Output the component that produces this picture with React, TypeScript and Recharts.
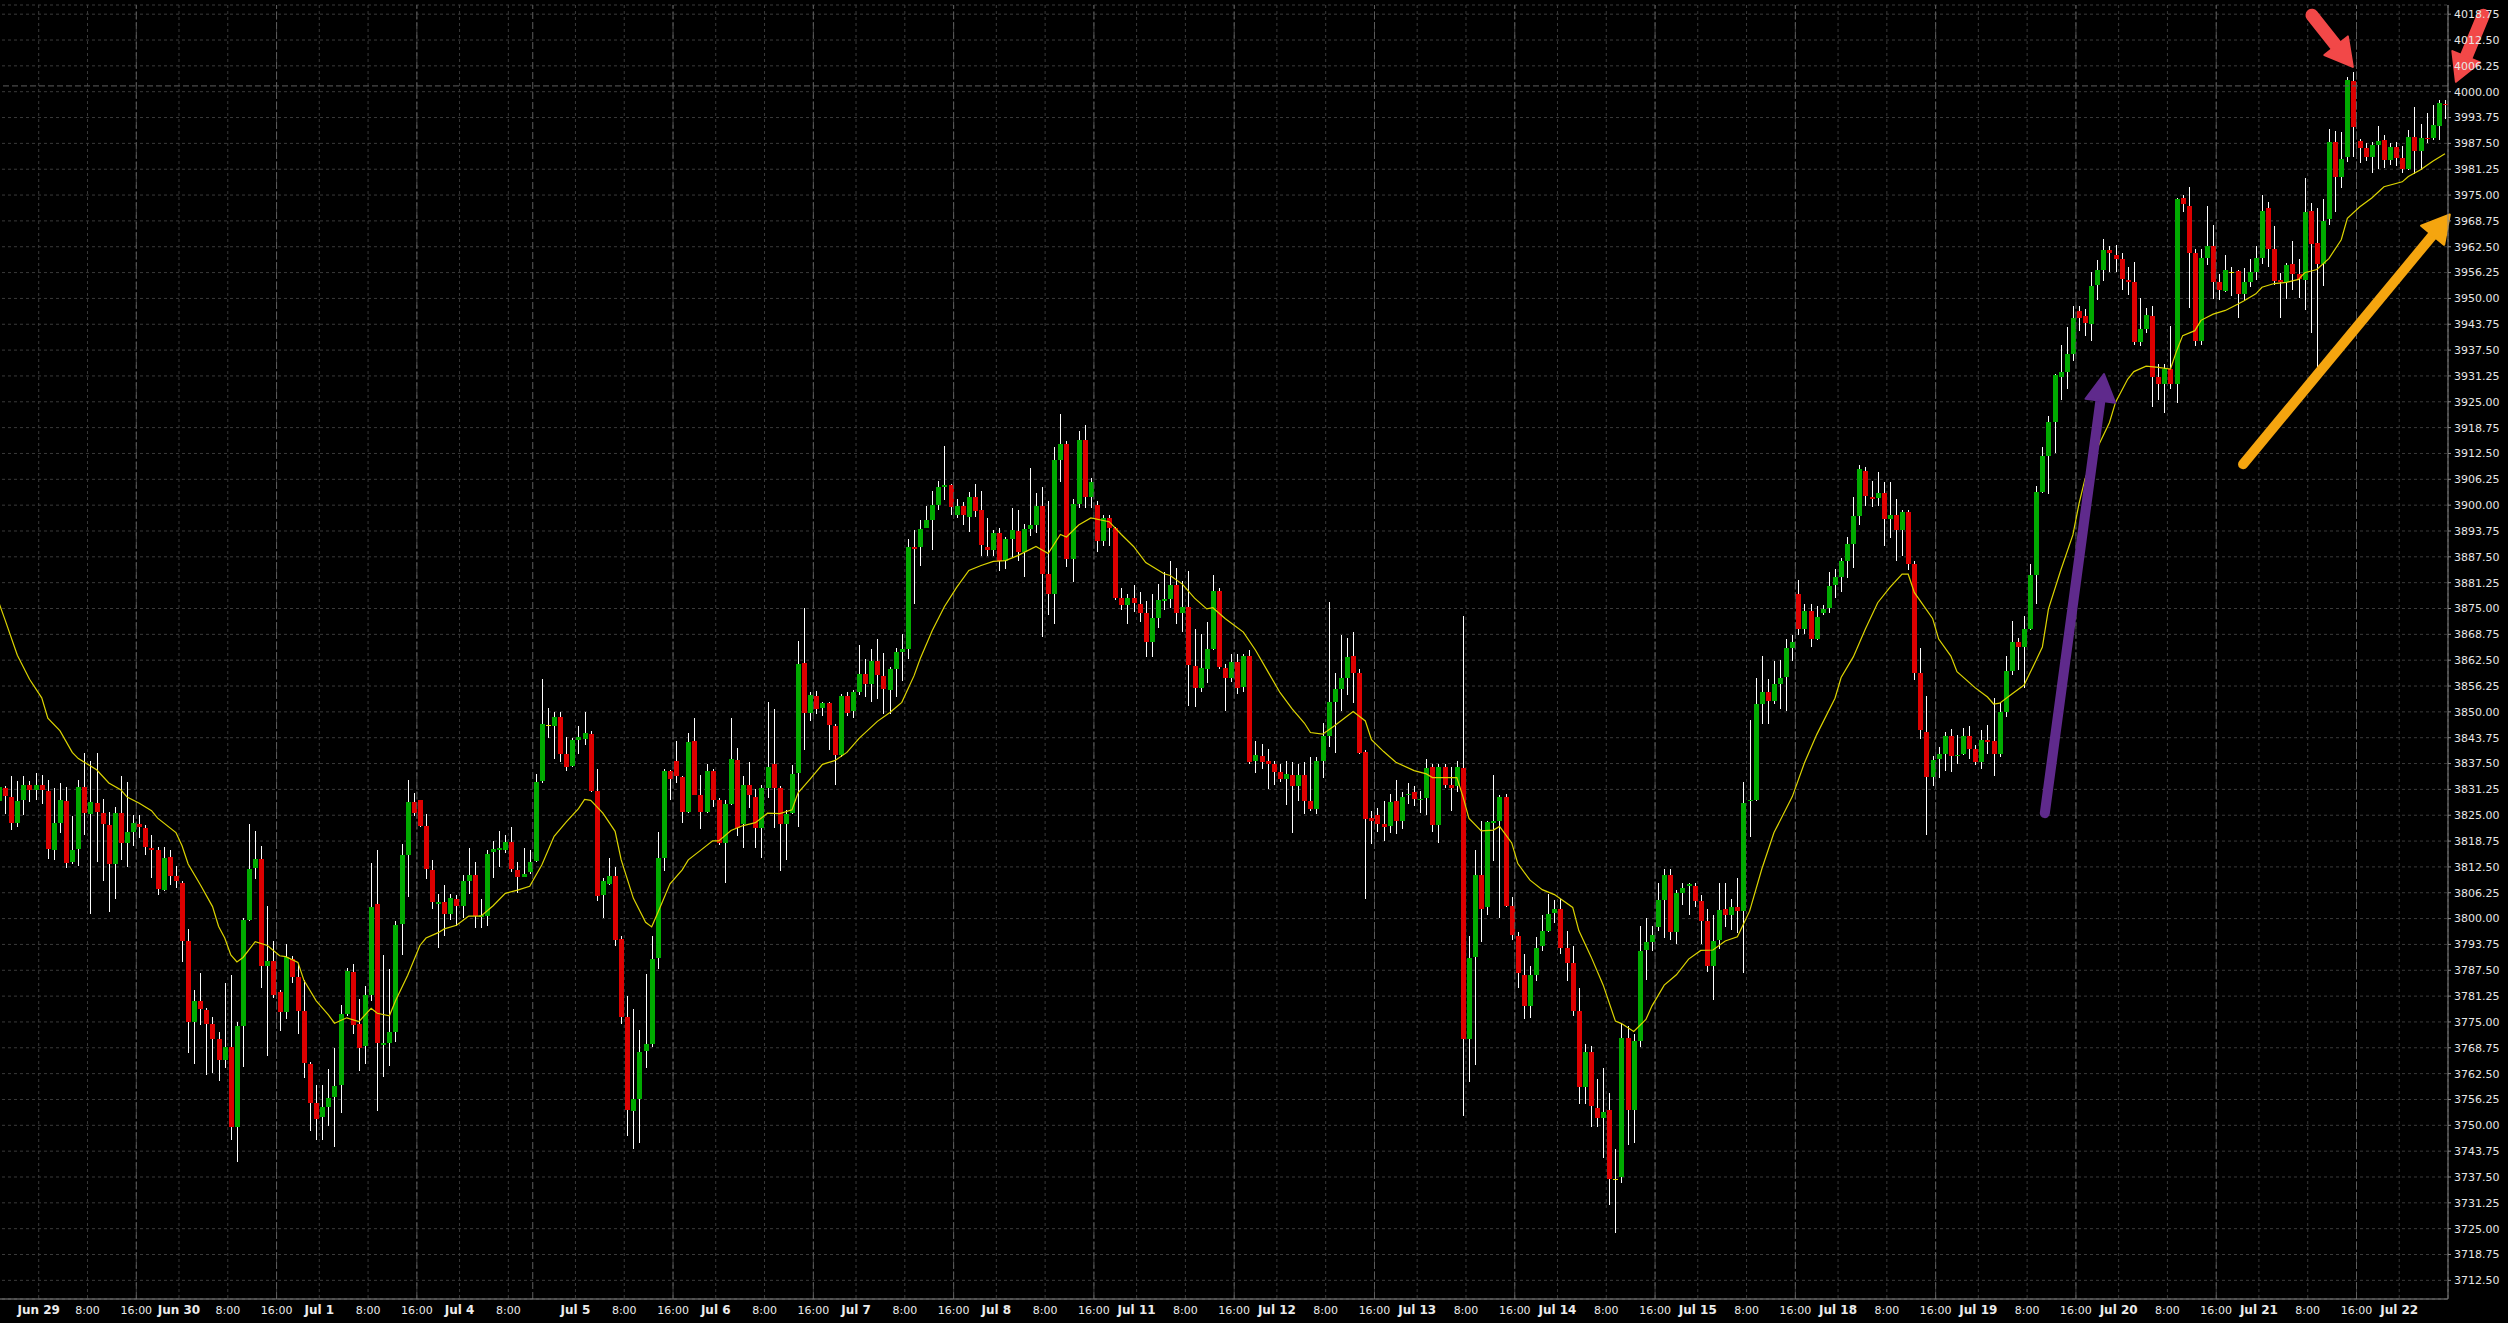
import React from "react";
import {
  ComposedChart,
  Bar,
  Line,
  XAxis,
  YAxis,
  CartesianGrid,
  ReferenceLine,
} from "recharts";

// hourly candles, index 0..401
const open = [
  3828.5, 3831.7, 3829.3, 3823.2, 3828.6, 3832.2, 3831.1, 3832.2, 3830.9, 3816.7,
  3823.2, 3828.4, 3813.8, 3816.9, 3831.9, 3825.3, 3827.9, 3825.5, 3822.7, 3813.3,
  3825.5, 3818.2, 3821.0, 3822.8, 3821.9, 3817.0, 3816.6, 3806.9, 3814.8, 3810.3,
  3808.5, 3794.7, 3774.9, 3780.0, 3777.8, 3774.4, 3770.9, 3765.9, 3768.9, 3749.5,
  3774.0, 3799.6, 3812.3, 3814.3, 3788.6, 3789.7, 3782.3, 3777.4, 3790.3, 3785.8,
  3777.6, 3764.8, 3755.5, 3751.9, 3754.4, 3756.8, 3759.7, 3776.9, 3787.2, 3774.5,
  3769.1, 3781.4, 3803.5, 3769.5, 3769.8, 3772.5, 3798.8, 3815.4, 3828.2, 3828.6,
  3822.4, 3811.7, 3803.6, 3804.0, 3801.1, 3804.8, 3803.1, 3809.0, 3810.5, 3800.4,
  3800.6, 3816.1, 3816.5, 3816.7, 3818.6, 3811.8, 3810.1, 3811.2, 3813.9, 3833.2,
  3846.8, 3846.5, 3848.8, 3839.8, 3836.8, 3843.3, 3843.4, 3844.7, 3830.8, 3805.7,
  3808.4, 3810.3, 3795.1, 3776.3, 3753.5, 3756.3, 3767.9, 3769.6, 3790.4, 3814.7,
  3835.6, 3838.1, 3834.3, 3825.7, 3843.0, 3830.0, 3825.7, 3835.8, 3828.7, 3818.3,
  3827.8, 3838.3, 3822.8, 3832.4, 3829.4, 3821.8, 3831.7, 3837.3, 3831.7, 3822.8,
  3825.5, 3835.2, 3861.8, 3849.8, 3853.8, 3850.9, 3852.1, 3846.5, 3839.6, 3853.8,
  3850.1, 3854.9, 3859.1, 3856.7, 3862.2, 3858.7, 3855.2, 3860.4, 3864.6, 3865.3,
  3889.8, 3889.8, 3894.5, 3896.5, 3900.1, 3904.5, 3904.9, 3897.5, 3899.8, 3897.2,
  3901.9, 3898.8, 3889.9, 3889.1, 3893.2, 3886.6, 3891.8, 3893.7, 3888.7, 3894.3,
  3895.2, 3899.8, 3883.4, 3878.4, 3910.8, 3914.9, 3886.9, 3900.3, 3915.7, 3902.0,
  3900.1, 3891.4, 3896.9, 3894.4, 3877.5, 3875.8, 3877.5, 3876.1, 3873.8, 3867.0,
  3872.7, 3876.8, 3877.3, 3880.7, 3873.8, 3875.4, 3861.2, 3855.8, 3860.4, 3865.2,
  3879.2, 3860.6, 3858.1, 3862.0, 3856.0, 3863.6, 3838.1, 3839.3, 3838.1, 3837.5,
  3835.5, 3833.7, 3834.7, 3832.1, 3834.7, 3828.4, 3826.4, 3838.1, 3844.2, 3852.4,
  3855.6, 3858.3, 3863.4, 3859.5, 3840.4, 3824.4, 3825.0, 3822.9, 3822.4, 3828.4,
  3823.5, 3829.8, 3830.5, 3828.8, 3829.2, 3836.6, 3822.7, 3836.6, 3832.4, 3832.1,
  3836.4, 3770.8, 3790.6, 3810.6, 3802.7, 3823.0, 3823.5, 3829.5, 3803.0, 3795.8,
  3786.3, 3778.9, 3786.3, 3793.3, 3797.0, 3801.4, 3802.3, 3793.0, 3789.3, 3777.7,
  3759.3, 3767.7, 3754.3, 3751.7, 3753.6, 3737.1, 3737.6, 3771.2, 3753.6, 3770.4,
  3792.3, 3794.3, 3798.0, 3804.6, 3810.6, 3796.8, 3806.2, 3807.8, 3807.9, 3804.2,
  3799.3, 3788.6, 3794.8, 3802.4, 3800.8, 3802.9, 3801.8, 3828.5, 3828.8, 3851.8,
  3854.8, 3852.7, 3856.8, 3858.5, 3865.5, 3878.5, 3870.1, 3874.5, 3867.6, 3873.8,
  3875.1, 3880.8, 3882.6, 3886.4, 3890.5, 3897.3, 3908.3, 3902.0, 3901.8, 3902.9,
  3896.6, 3897.6, 3893.9, 3898.3, 3885.8, 3859.3, 3845.2, 3834.3, 3838.6, 3839.8,
  3844.2, 3839.3, 3839.8, 3844.1, 3841.0, 3837.9, 3843.2, 3842.9, 3839.8, 3849.9,
  3859.8, 3866.9, 3865.7, 3870.0, 3883.2, 3903.3, 3911.9, 3920.2, 3931.1, 3932.3,
  3936.5, 3946.9, 3945.7, 3943.7, 3953.3, 3956.8, 3961.7, 3960.5, 3959.5, 3954.5,
  3953.9, 3939.5, 3942.5, 3945.7, 3931.1, 3929.3, 3932.9, 3929.3, 3974.3, 3972.4,
  3961.1, 3939.7, 3959.7, 3962.6, 3953.9, 3951.8, 3956.4, 3956.6, 3951.1, 3953.9,
  3956.4, 3959.7, 3971.8, 3961.9, 3954.5, 3953.9, 3958.3, 3955.8, 3954.5, 3971.1,
  3963.4, 3958.3, 3969.1, 3987.8, 3979.4, 3984.1, 4002.6, 3988.0, 3986.5, 3984.3,
  3987.2, 3988.3, 3983.6, 3986.7, 3984.0, 3981.3, 3989.1, 3985.7, 3988.9, 3988.9,
  3991.7, 3997.1,
];

const high = [
  3832.4, 3832.0, 3834.5, 3833.2, 3834.6, 3833.2, 3835.2, 3834.8, 3833.5, 3831.5,
  3832.8, 3831.8, 3824.8, 3833.5, 3840.0, 3838.2, 3840.0, 3828.9, 3825.7, 3826.9,
  3834.6, 3833.1, 3825.1, 3825.1, 3822.7, 3820.1, 3817.2, 3817.2, 3816.6, 3812.7,
  3809.0, 3797.4, 3782.7, 3786.8, 3778.4, 3776.3, 3772.5, 3784.5, 3786.3, 3775.1,
  3800.2, 3822.8, 3821.2, 3817.5, 3803.1, 3794.5, 3782.7, 3793.8, 3791.0, 3789.0,
  3785.2, 3765.3, 3759.7, 3759.7, 3763.5, 3768.6, 3779.2, 3788.1, 3789.0, 3780.5,
  3783.6, 3813.5, 3816.7, 3791.1, 3787.7, 3799.3, 3818.1, 3833.5, 3830.3, 3828.6,
  3825.2, 3814.2, 3806.0, 3808.2, 3806.0, 3805.6, 3810.5, 3817.0, 3813.6, 3804.7,
  3816.7, 3818.8, 3821.1, 3820.2, 3822.2, 3813.6, 3817.1, 3816.5, 3835.0, 3858.0,
  3850.9, 3850.0, 3850.0, 3844.0, 3843.7, 3846.5, 3850.0, 3845.4, 3836.1, 3809.8,
  3814.7, 3812.4, 3795.7, 3781.2, 3778.1, 3773.0, 3786.6, 3795.9, 3820.9, 3836.1,
  3836.0, 3842.9, 3834.4, 3845.0, 3848.6, 3834.7, 3837.5, 3836.1, 3829.2, 3828.6,
  3848.5, 3841.2, 3834.4, 3837.9, 3831.3, 3832.4, 3852.3, 3850.7, 3832.1, 3826.3,
  3837.1, 3867.2, 3875.1, 3854.9, 3855.0, 3852.3, 3852.3, 3847.1, 3854.3, 3854.9,
  3855.2, 3866.2, 3862.8, 3865.3, 3867.6, 3864.2, 3860.8, 3865.4, 3868.8, 3891.7,
  3894.0, 3896.3, 3899.8, 3903.5, 3905.8, 3914.2, 3905.0, 3901.5, 3900.7, 3903.2,
  3905.0, 3903.4, 3896.9, 3894.0, 3894.4, 3892.3, 3899.2, 3898.8, 3895.5, 3908.9,
  3902.9, 3904.5, 3900.9, 3914.0, 3922.0, 3915.4, 3901.5, 3918.0, 3919.4, 3906.6,
  3900.9, 3897.5, 3897.5, 3894.6, 3880.0, 3878.4, 3880.6, 3878.9, 3876.9, 3878.6,
  3880.9, 3883.8, 3886.4, 3884.9, 3881.7, 3884.0, 3870.1, 3868.9, 3871.8, 3883.2,
  3880.0, 3861.5, 3864.0, 3864.0, 3864.0, 3864.9, 3842.9, 3842.3, 3840.9, 3838.1,
  3837.5, 3838.1, 3837.8, 3837.5, 3837.8, 3839.2, 3839.2, 3847.2, 3876.6, 3859.5,
  3868.6, 3867.8, 3869.2, 3860.4, 3840.7, 3826.1, 3826.7, 3828.4, 3830.1, 3833.5,
  3830.5, 3832.8, 3832.1, 3830.9, 3838.7, 3837.5, 3837.3, 3837.3, 3836.6, 3838.1,
  3873.1, 3795.9, 3816.7, 3823.5, 3823.5, 3834.8, 3829.8, 3830.2, 3805.2, 3796.8,
  3791.4, 3788.5, 3795.6, 3800.8, 3806.0, 3804.5, 3804.8, 3797.0, 3793.3, 3783.1,
  3769.6, 3769.3, 3761.1, 3763.9, 3757.7, 3744.3, 3774.6, 3774.0, 3772.1, 3798.1,
  3800.2, 3798.3, 3808.5, 3812.0, 3812.0, 3807.0, 3808.5, 3808.5, 3808.5, 3805.8,
  3802.3, 3800.8, 3808.7, 3808.7, 3804.8, 3809.8, 3833.0, 3848.0, 3858.3, 3863.5,
  3858.0, 3862.3, 3862.6, 3867.6, 3868.5, 3881.8, 3876.0, 3876.0, 3875.5, 3875.8,
  3883.9, 3884.5, 3887.3, 3892.3, 3902.0, 3909.8, 3909.3, 3905.8, 3908.0, 3905.5,
  3905.5, 3901.4, 3898.9, 3898.9, 3886.4, 3865.5, 3853.9, 3839.3, 3841.4, 3845.2,
  3845.8, 3844.5, 3846.2, 3846.6, 3842.0, 3845.7, 3846.9, 3853.4, 3852.1, 3863.5,
  3871.9, 3867.9, 3873.1, 3885.7, 3904.6, 3914.1, 3921.5, 3931.6, 3938.7, 3943.2,
  3948.1, 3948.1, 3947.4, 3956.4, 3959.2, 3964.4, 3962.6, 3962.9, 3961.0, 3957.6,
  3958.9, 3950.0, 3947.8, 3948.1, 3934.2, 3934.2, 3943.4, 3974.3, 3974.9, 3977.0,
  3961.9, 3961.9, 3972.4, 3967.8, 3955.8, 3960.5, 3957.6, 3956.8, 3957.3, 3959.5,
  3962.6, 3974.9, 3973.4, 3967.5, 3956.2, 3958.5, 3963.8, 3959.5, 3979.2, 3973.1,
  3971.8, 3974.0, 3991.0, 3990.5, 3990.3, 4003.5, 4004.8, 3988.5, 3987.5, 3987.9,
  3991.7, 3989.5, 3987.5, 3987.9, 3986.9, 3990.7, 3996.2, 3992.3, 3994.9, 3996.8,
  3998.0, 3998.0,
];

const low = [
  3827.9, 3825.4, 3821.5, 3822.1, 3825.0, 3828.1, 3828.6, 3827.7, 3814.5, 3814.1,
  3820.6, 3812.2, 3813.2, 3812.7, 3820.3, 3801.2, 3813.6, 3809.1, 3801.5, 3804.7,
  3814.1, 3812.5, 3817.5, 3819.6, 3815.3, 3809.8, 3805.6, 3806.6, 3808.2, 3807.4,
  3789.5, 3767.5, 3764.8, 3774.2, 3762.1, 3762.6, 3760.8, 3763.9, 3746.5, 3741.1,
  3764.2, 3799.5, 3809.6, 3783.2, 3766.8, 3780.9, 3772.9, 3775.6, 3784.5, 3772.2,
  3761.5, 3748.7, 3746.5, 3746.5, 3749.8, 3744.7, 3752.9, 3776.5, 3772.0, 3763.2,
  3764.8, 3780.0, 3753.5, 3761.7, 3764.4, 3770.2, 3791.2, 3805.3, 3824.8, 3822.1,
  3809.6, 3802.4, 3792.8, 3795.7, 3799.6, 3798.1, 3800.2, 3805.9, 3797.7, 3797.8,
  3798.3, 3809.8, 3812.4, 3815.9, 3811.3, 3806.1, 3810.1, 3810.7, 3813.7, 3832.7,
  3843.7, 3838.5, 3837.9, 3835.8, 3836.7, 3839.9, 3841.9, 3830.6, 3804.3, 3800.1,
  3808.1, 3793.3, 3774.6, 3747.4, 3744.2, 3745.7, 3763.8, 3769.0, 3787.8, 3811.6,
  3828.6, 3832.9, 3823.2, 3825.5, 3829.8, 3821.7, 3825.5, 3826.9, 3817.9, 3808.6,
  3827.5, 3819.9, 3817.0, 3826.7, 3817.0, 3814.7, 3829.2, 3822.0, 3811.6, 3814.1,
  3825.2, 3822.2, 3840.8, 3847.9, 3849.4, 3849.1, 3840.8, 3832.4, 3839.0, 3848.9,
  3848.5, 3854.2, 3853.7, 3852.3, 3853.1, 3849.4, 3849.4, 3853.7, 3857.5, 3862.8,
  3876.2, 3885.3, 3894.5, 3889.1, 3898.8, 3901.2, 3897.7, 3896.9, 3895.1, 3893.4,
  3897.2, 3887.8, 3887.8, 3887.8, 3884.1, 3884.6, 3887.5, 3886.4, 3882.6, 3892.6,
  3893.2, 3868.0, 3873.5, 3871.2, 3905.5, 3885.1, 3881.5, 3899.2, 3899.4, 3899.4,
  3888.7, 3890.0, 3890.0, 3877.0, 3874.6, 3871.2, 3874.1, 3871.8, 3863.2, 3863.2,
  3870.4, 3874.6, 3875.2, 3871.2, 3869.3, 3851.5, 3851.2, 3854.7, 3856.9, 3864.9,
  3860.4, 3850.1, 3857.2, 3854.4, 3854.9, 3837.5, 3835.3, 3836.2, 3831.3, 3832.4,
  3833.0, 3827.5, 3820.7, 3828.4, 3825.2, 3826.1, 3825.3, 3833.9, 3841.5, 3840.1,
  3850.1, 3854.1, 3852.2, 3839.8, 3804.8, 3818.1, 3821.0, 3818.7, 3820.6, 3820.4,
  3821.6, 3827.8, 3827.3, 3825.6, 3825.0, 3821.0, 3818.4, 3831.6, 3826.1, 3830.7,
  3752.2, 3760.5, 3764.6, 3794.3, 3800.8, 3813.9, 3800.2, 3802.7, 3794.8, 3783.1,
  3775.6, 3776.0, 3784.8, 3792.1, 3796.8, 3798.9, 3791.4, 3784.8, 3776.4, 3755.2,
  3755.2, 3749.6, 3749.6, 3742.1, 3730.8, 3724.0, 3736.1, 3745.2, 3745.8, 3768.9,
  3785.2, 3792.1, 3797.0, 3795.2, 3794.8, 3793.9, 3803.3, 3800.8, 3802.7, 3793.9,
  3787.1, 3780.2, 3792.7, 3798.0, 3797.3, 3796.4, 3786.8, 3819.8, 3828.5, 3847.0,
  3847.0, 3852.0, 3850.8, 3850.2, 3862.3, 3868.5, 3868.9, 3865.8, 3867.3, 3873.5,
  3873.9, 3877.6, 3878.9, 3882.3, 3884.8, 3895.1, 3899.8, 3899.5, 3899.8, 3890.1,
  3892.0, 3886.4, 3887.6, 3884.3, 3857.7, 3843.5, 3820.2, 3832.0, 3833.9, 3835.8,
  3835.5, 3837.3, 3839.5, 3838.5, 3837.1, 3836.1, 3839.8, 3834.6, 3839.2, 3848.7,
  3858.9, 3860.1, 3855.8, 3869.7, 3876.2, 3903.0, 3902.7, 3912.6, 3925.5, 3928.0,
  3934.8, 3942.2, 3941.0, 3939.8, 3949.6, 3954.3, 3956.4, 3956.4, 3952.1, 3950.8,
  3938.7, 3938.5, 3941.6, 3923.7, 3925.5, 3922.2, 3928.0, 3924.7, 3970.8, 3947.8,
  3938.5, 3938.7, 3958.0, 3949.9, 3949.6, 3951.5, 3950.6, 3945.3, 3949.6, 3952.7,
  3954.5, 3958.3, 3957.6, 3953.3, 3945.3, 3949.9, 3952.1, 3950.0, 3947.1, 3941.6,
  3933.3, 3953.1, 3967.7, 3970.9, 3976.6, 3983.1, 3984.3, 3982.7, 3983.3, 3980.4,
  3981.2, 3981.5, 3982.3, 3982.0, 3980.4, 3981.0, 3980.2, 3981.0, 3987.7, 3988.3,
  3988.3, 3993.5,
];

const close = [
  3831.8, 3829.7, 3823.0, 3828.4, 3832.2, 3831.1, 3832.2, 3831.0, 3816.9, 3823.2,
  3828.6, 3813.5, 3816.7, 3831.9, 3825.5, 3828.2, 3825.9, 3822.8, 3813.3, 3825.5,
  3818.2, 3820.9, 3823.1, 3822.1, 3817.4, 3816.7, 3807.1, 3814.6, 3810.2, 3809.0,
  3794.7, 3774.9, 3780.0, 3778.1, 3774.4, 3770.9, 3765.9, 3768.9, 3749.5, 3774.0,
  3799.6, 3812.0, 3814.5, 3788.5, 3789.7, 3781.4, 3777.4, 3790.8, 3785.8, 3777.6,
  3765.0, 3755.5, 3751.6, 3754.4, 3756.6, 3759.5, 3776.9, 3787.4, 3774.2, 3768.7,
  3781.4, 3802.8, 3769.8, 3770.0, 3772.6, 3798.4, 3815.3, 3828.2, 3825.5, 3822.4,
  3812.0, 3804.0, 3804.1, 3801.1, 3804.9, 3803.1, 3809.0, 3810.5, 3800.6, 3800.9,
  3815.6, 3816.8, 3817.1, 3818.6, 3812.1, 3810.1, 3810.7, 3813.7, 3833.0, 3847.0,
  3846.8, 3848.8, 3839.8, 3836.6, 3843.3, 3843.9, 3844.9, 3830.8, 3805.5, 3809.0,
  3810.3, 3794.8, 3776.3, 3753.7, 3756.3, 3767.7, 3769.6, 3790.2, 3814.6, 3835.6,
  3833.8, 3834.6, 3825.7, 3842.7, 3829.9, 3825.7, 3835.8, 3828.7, 3818.3, 3827.8,
  3838.5, 3821.8, 3832.3, 3829.8, 3821.8, 3831.7, 3836.7, 3831.7, 3822.8, 3825.2,
  3835.0, 3861.5, 3849.8, 3854.1, 3850.6, 3852.1, 3846.8, 3839.6, 3853.8, 3849.8,
  3854.9, 3859.1, 3856.7, 3862.2, 3858.8, 3855.5, 3860.4, 3864.6, 3865.1, 3889.8,
  3889.5, 3894.3, 3896.4, 3900.1, 3904.4, 3904.9, 3899.5, 3899.8, 3897.5, 3901.9,
  3898.6, 3890.3, 3889.1, 3893.2, 3886.6, 3891.8, 3894.0, 3888.7, 3894.3, 3895.2,
  3899.8, 3883.4, 3878.4, 3910.8, 3914.9, 3886.9, 3900.3, 3915.7, 3902.0, 3905.5,
  3891.4, 3896.9, 3894.4, 3877.5, 3875.8, 3877.5, 3876.3, 3873.8, 3867.0, 3872.7,
  3877.0, 3877.3, 3880.7, 3873.8, 3875.4, 3861.3, 3855.8, 3860.6, 3865.2, 3879.2,
  3860.8, 3858.1, 3862.0, 3855.8, 3863.6, 3837.8, 3839.6, 3837.8, 3837.5, 3835.5,
  3833.7, 3835.0, 3832.1, 3834.7, 3828.4, 3826.5, 3838.1, 3844.2, 3852.4, 3855.6,
  3858.3, 3863.2, 3859.5, 3840.1, 3824.1, 3823.6, 3822.9, 3822.1, 3828.2, 3823.5,
  3829.3, 3830.2, 3829.0, 3829.0, 3836.4, 3822.7, 3836.6, 3832.4, 3831.6, 3836.6,
  3770.8, 3790.5, 3810.6, 3802.3, 3823.3, 3823.5, 3829.5, 3803.0, 3796.1, 3786.8,
  3778.9, 3786.3, 3793.0, 3797.0, 3801.0, 3802.3, 3793.0, 3789.3, 3777.7, 3759.3,
  3767.7, 3754.6, 3751.7, 3753.3, 3737.1, 3737.1, 3771.2, 3753.6, 3770.4, 3792.1,
  3794.3, 3796.0, 3804.6, 3810.6, 3796.8, 3806.2, 3807.5, 3808.3, 3804.2, 3799.3,
  3788.6, 3794.6, 3802.0, 3800.8, 3802.7, 3801.8, 3828.0, 3828.8, 3851.8, 3854.8,
  3852.7, 3856.8, 3858.3, 3865.5, 3866.8, 3870.1, 3874.5, 3867.6, 3873.0, 3875.0,
  3880.5, 3882.6, 3886.4, 3890.5, 3897.3, 3908.8, 3902.3, 3901.6, 3902.9, 3896.6,
  3897.6, 3893.9, 3898.3, 3885.8, 3859.3, 3845.5, 3834.3, 3838.3, 3839.8, 3844.2,
  3839.3, 3839.5, 3844.1, 3841.0, 3837.9, 3843.2, 3842.8, 3839.8, 3849.9, 3859.8,
  3866.9, 3865.7, 3870.0, 3883.2, 3903.3, 3911.9, 3920.2, 3931.4, 3932.3, 3936.5,
  3945.3, 3945.3, 3944.1, 3953.1, 3956.8, 3961.7, 3961.0, 3959.5, 3954.8, 3953.9,
  3939.5, 3942.5, 3945.9, 3931.1, 3929.3, 3932.9, 3929.3, 3974.0, 3972.8, 3961.1,
  3939.7, 3959.7, 3962.6, 3953.9, 3952.1, 3956.8, 3956.4, 3951.1, 3953.9, 3956.4,
  3959.7, 3971.2, 3961.9, 3954.3, 3953.9, 3958.0, 3955.8, 3954.8, 3970.8, 3963.2,
  3958.3, 3968.7, 3987.8, 3979.4, 3983.7, 4002.8, 3991.4, 3986.5, 3984.3, 3987.1,
  3988.0, 3983.6, 3986.7, 3983.9, 3981.2, 3989.1, 3985.7, 3988.9, 3988.5, 3991.9,
  3997.2, 3996.7,
];

// moving average at these candles
const maBars = [
  0, 1, 3, 5, 7, 8, 10, 12, 13, 16, 18, 20, 21, 23, 25, 26, 29, 30, 31, 33,
  35, 36, 37, 38, 39, 40, 42, 44, 46, 47, 49, 50, 52, 54, 55, 57, 59, 61, 62, 64,
  65, 67, 69, 70, 72, 73, 75, 77, 79, 81, 83, 85, 87, 89, 91, 93, 95, 96, 97, 99,
  101, 102, 104, 106, 107, 108, 110, 112, 113, 115, 117, 118, 120, 122, 124, 126, 128, 130, 131, 133,
  135, 137, 139, 141, 144, 146, 148, 150, 151, 153, 155, 157, 159, 161, 163, 165, 167, 170, 172, 174,
  175, 177, 179, 182, 184, 186, 188, 191, 192, 194, 196, 198, 199, 201, 204, 206, 208, 210, 212, 214,
  215, 217, 219, 222, 224, 225, 227, 229, 232, 234, 235, 237, 239, 240, 241, 243, 245, 246, 248, 249,
  251, 253, 255, 258, 259, 261, 263, 265, 266, 268, 270, 271, 273, 275, 277, 279, 281, 283, 285, 287,
  289, 291, 294, 296, 298, 301, 302, 304, 306, 308, 310, 312, 313, 314, 317, 318, 320, 321, 324, 326,
  327, 328, 330, 332, 333, 335, 336, 338, 340, 341, 342, 344, 346, 347, 349, 350, 352, 354, 356, 357,
  358, 360, 361, 363, 365, 367, 368, 370, 371, 373, 375, 377, 378, 380, 382, 384, 385, 387, 389, 391,
  394, 395, 397, 399, 401,
];
const maValues = [
  3876.3, 3872.2, 3863.7, 3857.9, 3853.4, 3848.5, 3845.4, 3840.2, 3838.7, 3836.0, 3832.8, 3831.1, 3829.4, 3827.9, 3826.1, 3824.3, 3820.8, 3817.6, 3813.2, 3808.2,
  3802.9, 3798.1, 3795.3, 3791.2, 3789.5, 3790.6, 3794.4, 3793.5, 3791.0, 3790.8, 3789.4, 3785.0, 3780.1, 3776.7, 3774.7, 3776.0, 3775.1, 3778.3, 3777.1, 3776.5,
  3780.1, 3786.3, 3793.5, 3795.3, 3796.6, 3797.5, 3798.4, 3800.6, 3800.6, 3803.1, 3806.1, 3806.9, 3807.8, 3813.0, 3819.9, 3823.4, 3826.6, 3828.8, 3828.6, 3825.5,
  3821.1, 3814.2, 3804.9, 3799.1, 3798.0, 3801.4, 3808.4, 3811.8, 3814.2, 3816.5, 3818.8, 3818.8, 3821.3, 3822.5, 3823.2, 3825.5, 3825.4, 3826.3, 3830.4, 3833.8,
  3837.3, 3838.2, 3840.2, 3843.6, 3847.7, 3849.8, 3852.3, 3858.7, 3862.8, 3869.7, 3875.5, 3880.1, 3884.2, 3885.4, 3886.4, 3886.6, 3887.8, 3890.0, 3888.3, 3892.9,
  3892.3, 3895.2, 3896.9, 3896.0, 3892.9, 3890.0, 3886.1, 3883.4, 3883.0, 3880.9, 3877.5, 3874.9, 3875.2, 3872.6, 3869.3, 3864.9, 3859.8, 3854.7, 3850.7, 3847.3,
  3845.0, 3844.6, 3846.7, 3850.1, 3847.8, 3843.3, 3840.4, 3837.8, 3835.8, 3835.0, 3834.1, 3834.1, 3834.1, 3829.5, 3824.2, 3821.2, 3821.4, 3822.3, 3818.3, 3813.3,
  3809.3, 3807.0, 3805.8, 3802.7, 3797.1, 3790.8, 3783.9, 3775.2, 3774.6, 3772.7, 3775.6, 3778.9, 3783.9, 3786.4, 3790.2, 3792.3, 3792.4, 3794.6, 3795.6, 3801.8,
  3812.0, 3820.8, 3829.5, 3837.7, 3844.5, 3853.3, 3858.3, 3863.3, 3870.1, 3876.4, 3880.1, 3883.3, 3883.3, 3878.9, 3872.6, 3867.6, 3863.5, 3859.7, 3855.8, 3853.6,
  3851.9, 3852.1, 3854.3, 3856.5, 3859.5, 3865.7, 3874.9, 3884.2, 3892.8, 3900.3, 3906.4, 3913.8, 3920.0, 3924.9, 3930.5, 3932.3, 3933.6, 3933.3, 3932.9, 3937.3,
  3941.0, 3942.2, 3944.7, 3946.2, 3947.1, 3948.6, 3949.4, 3951.1, 3952.7, 3953.6, 3953.9, 3954.6, 3956.2, 3957.0, 3959.7, 3964.2, 3969.4, 3972.1, 3974.3, 3977.0,
  3978.2, 3979.5, 3981.1, 3983.2, 3985.0,
];

// time axis: label sits on the left edge of this candle
const timeLabelBars = [
  7, 15, 23, 30, 38, 46, 53, 61, 69, 76, 84, 95, 103, 111, 118, 126, 134, 141, 149, 157,
  164, 172, 180, 187, 195, 203, 210, 218, 226, 233, 241, 249, 256, 264, 272, 279, 287, 295, 302, 310,
  318, 325, 333, 341, 348, 356, 364, 371, 379, 387, 394,
];
const timeLabels = [
  "Jun 29", "8:00", "16:00", "Jun 30", "8:00", "16:00", "Jul 1", "8:00", "16:00", "Jul 4",
  "8:00", "Jul 5", "8:00", "16:00", "Jul 6", "8:00", "16:00", "Jul 7", "8:00", "16:00",
  "Jul 8", "8:00", "16:00", "Jul 11", "8:00", "16:00", "Jul 12", "8:00", "16:00", "Jul 13",
  "8:00", "16:00", "Jul 14", "8:00", "16:00", "Jul 15", "8:00", "16:00", "Jul 18", "8:00",
  "16:00", "Jul 19", "8:00", "16:00", "Jul 20", "8:00", "16:00", "Jul 21", "8:00", "16:00",
  "Jul 22",
];
// session separators (dashed verticals)
const sessionBars = [23, 46, 69, 88, 111, 134, 157, 180, 203, 226, 249, 272, 295, 318, 341, 364, 387];

const priceTicks = Array.from({ length: 50 }, (_, n) => 3712.5 + n * 6.25);
const levelLine = 4001.4;

// hand-drawn arrows: [bar, price] of tail and tip
const arrows = [
  { from: [379.2, 4018.5], to: [385.9, 4006.0], color: "#f24848" },
  { from: [407.3, 4018.5], to: [402.8, 4002.4], color: "#f24848" },
  { from: [335.4, 3825.5], to: [345.1, 3931.7], color: "#5f2a8c" },
  { from: [367.9, 3909.9], to: [401.8, 3970.3], color: "#f5a50f" },
];

const rows = open.map((o, i) => ({
  i,
  o,
  h: high[i],
  l: low[i],
  c: close[i],
  range: [low[i], high[i]],
  ma: null as number | null,
}));
maBars.forEach((b, j) => {
  rows[b].ma = maValues[j];
});

const labelAt = new Map(timeLabelBars.map((b, j) => [b - 0.5, timeLabels[j]]));

function Candle(props: any) {
  const { x, y, width, height, payload } = props;
  if (!payload) return null;
  const { o, h, l, c } = payload;
  const top = Math.min(y, y + height);
  const bottom = Math.max(y, y + height);
  const ppu = h > l ? (bottom - top) / (h - l) : 0;
  const yOf = (v: number) => top + (h - v) * ppu;
  const left = Math.round(x + width / 2 - 2.5);
  const mid = left + 2.5;
  let body;
  if (o === c) {
    body = <line x1={left} x2={left + 5} y1={Math.round(yOf(o)) + 0.5} y2={Math.round(yOf(o)) + 0.5} stroke="#e8e000" />;
  } else {
    const by1 = Math.round(yOf(Math.max(o, c)));
    const by2 = Math.round(yOf(Math.min(o, c)));
    body = (
      <rect
        x={left}
        y={by1}
        width={5}
        height={Math.max(1, by2 - by1)}
        fill={c > o ? "#00aa00" : "#dd0000"}
      />
    );
  }
  return (
    <g shapeRendering="crispEdges">
      <line x1={mid} x2={mid} y1={top} y2={bottom} stroke="#ffffff" strokeWidth={1} />
      {body}
    </g>
  );
}

function TimeTick(props: any) {
  const { x, y, payload } = props;
  const text = labelAt.get(payload.value) ?? "";
  const isDate = /[A-Za-z]/.test(text);
  return (
    <text
      x={x}
      y={y + 13}
      textAnchor="middle"
      fill="#ececec"
      fontFamily={isDate ? "DejaVu Sans" : "DejaVu Sans"}
      fontWeight={isDate ? 700 : 400}
      fontSize={isDate ? 12 : 11}
    >
      {text}
    </text>
  );
}

function arrowShape(color: string, thick: number) {
  return (p: any) => {
    const { x1, y1, x2, y2 } = p;
    const dx = x2 - x1;
    const dy = y2 - y1;
    const len = Math.hypot(dx, dy) || 1;
    const ux = dx / len;
    const uy = dy / len;
    const headLen = 27;
    const half = 15;
    const bx = x2 - ux * headLen;
    const by = y2 - uy * headLen;
    const nx = -uy;
    const ny = ux;
    return (
      <g>
        <line
          x1={x1}
          y1={y1}
          x2={bx + ux * 3}
          y2={by + uy * 3}
          stroke={color}
          strokeWidth={thick}
          strokeLinecap="round"
        />
        <polygon
          points={`${x2},${y2} ${bx + nx * half},${by + ny * half} ${bx - nx * half},${by - ny * half}`}
          fill={color}
          stroke={color}
          strokeWidth={2}
          strokeLinejoin="round"
        />
      </g>
    );
  };
}

export default function App() {
  return (
    <div
      style={{
        position: "fixed",
        left: 0,
        top: 0,
        width: 2508,
        height: 1323,
        background: "#000",
        overflow: "hidden",
      }}
    >
      <div style={{ position: "absolute", left: -4, top: 0 }}>
        <ComposedChart
          width={2512}
          height={1323}
          data={rows}
          margin={{ top: 5, right: 0, bottom: 0, left: 0 }}
        >
          <CartesianGrid stroke="#3a3a3a" strokeDasharray="3 3" />
          <XAxis
            dataKey="i"
            type="number"
            domain={[-0.5, 401.5]}
            allowDataOverflow
            ticks={timeLabelBars.map((b) => b - 0.5)}
            interval={0}
            height={24}
            tickLine={false}
            tickSize={0}
            axisLine={{ stroke: "#8a8a8a" }}
            tick={(p: any) => <TimeTick {...p} />}
          />
          <YAxis
            orientation="right"
            type="number"
            domain={[3707.99, 4020.97]}
            allowDataOverflow
            ticks={priceTicks}
            interval={0}
            width={60}
            tickSize={3}
            tickMargin={3}
            axisLine={{ stroke: "#8a8a8a" }}
            tickLine={{ stroke: "#8a8a8a" }}
            tick={{ fill: "#e6e6e6", fontSize: 11, fontFamily: "DejaVu Sans" }}
            tickFormatter={(v: number) => v.toFixed(2)}
          />
          {sessionBars.map((b) => (
            <ReferenceLine
              key={"s" + b}
              x={b - 0.5}
              stroke="#5c5c5c"
              strokeDasharray="7 3"
            />
          ))}
          <ReferenceLine y={levelLine} stroke="#5e5e5e" strokeDasharray="6 3" />
          <Bar
            dataKey="range"
            barSize={5}
            shape={(p: any) => <Candle {...p} />}
            isAnimationActive={false}
          />
          <Line
            dataKey="ma"
            type="linear"
            stroke="#dcd400"
            strokeWidth={1.2}
            dot={false}
            activeDot={false}
            connectNulls
            isAnimationActive={false}
          />
          {arrows.map((a, j) => (
            <ReferenceLine
              key={"a" + j}
              segment={[
                { x: a.from[0], y: a.from[1] },
                { x: a.to[0], y: a.to[1] },
              ]}
              ifOverflow="visible"
              shape={arrowShape(a.color, j < 2 ? 13 : 10)}
            />
          ))}
        </ComposedChart>
      </div>
    </div>
  );
}
